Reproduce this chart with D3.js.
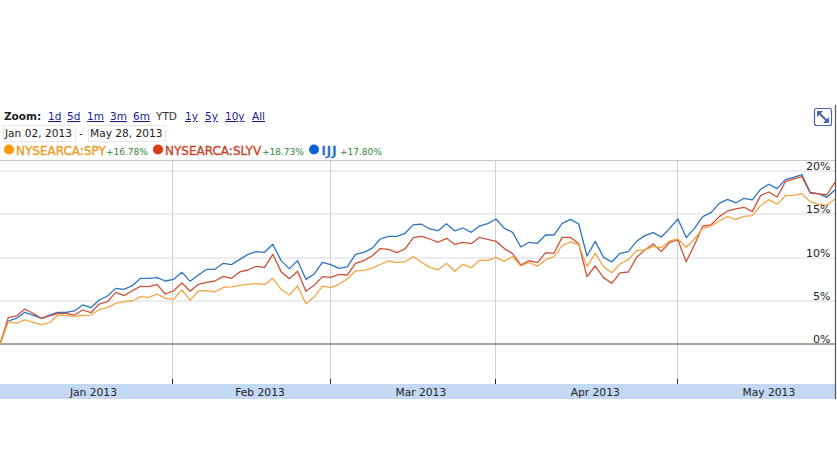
<!DOCTYPE html>
<html><head><meta charset="utf-8">
<script src="https://cdn.jsdelivr.net/npm/d3@7"></script>
<style>html,body{margin:0;padding:0;background:#fff}svg{display:block}
text{font-family:"DejaVu Sans",sans-serif}</style></head><body>
<svg id="c" width="837" height="460"></svg>
<script>
const spy=[0,2.61,2.42,2.81,2.54,2.27,2.50,3.38,3.31,3.23,3.35,3.38,4.00,4.23,4.73,4.92,5.00,5.50,5.42,5.81,5.31,5.19,6.27,5.08,6.16,6.19,6.04,6.58,6.62,6.81,6.93,7.00,6.89,7.62,6.35,5.69,6.73,4.69,5.46,6.73,6.54,6.93,7.54,8.47,8.54,8.77,9.24,9.62,9.43,9.54,10.12,9.47,8.85,8.62,9.35,8.43,9.24,8.85,9.70,9.70,10.04,9.58,10.12,9.04,9.47,9.00,9.77,10.12,11.39,11.82,11.51,8.97,10.51,8.97,8.27,9.27,9.77,10.85,10.89,11.31,11.16,11.93,12.16,11.20,12.16,13.39,13.66,14.24,14.74,14.43,14.78,14.86,16.01,16.70,16.17,17.17,17.20,17.40,16.47,16.17,16.05,16.78];
const slyv=[0,3.08,3.27,4.08,3.58,3.00,3.27,3.58,3.58,3.38,3.96,3.65,4.65,4.92,6.00,5.62,6.19,6.70,6.66,6.89,5.81,6.19,7.08,6.12,6.93,7.16,7.31,7.85,7.62,8.35,8.58,9.01,8.89,10.39,8.39,7.58,8.43,6.12,6.81,7.81,7.73,8.08,8.00,9.35,9.66,10.20,11.05,10.97,10.58,11.01,12.32,12.47,12.16,11.78,12.24,11.55,11.78,11.62,12.35,12.12,11.89,11.05,10.47,9.16,9.66,9.43,10.58,10.51,12.35,12.35,11.62,7.81,9.04,7.70,7.04,8.24,8.35,10.04,10.89,11.58,10.70,11.78,12.05,9.54,11.47,13.66,13.78,14.74,15.40,15.63,15.82,15.32,17.17,17.59,17.01,18.78,19.09,19.36,17.47,17.36,17.24,18.73];
const ijj=[0,2.69,3.00,3.69,3.38,3.00,3.38,3.69,3.69,3.85,4.54,4.23,5.12,5.58,6.46,6.35,6.77,7.62,7.62,7.70,7.31,7.50,8.31,7.27,8.00,8.66,8.66,9.35,9.20,9.81,10.39,10.70,10.62,11.55,9.66,8.74,9.66,7.50,8.12,9.47,9.20,8.77,8.93,10.39,10.62,11.08,12.16,12.47,12.47,12.82,13.82,13.86,13.32,13.12,13.93,13.09,13.43,12.93,13.66,13.93,14.47,13.39,12.93,11.24,11.78,11.66,12.62,12.62,13.97,14.43,13.89,10.20,11.89,10.04,9.51,10.51,10.70,11.89,12.55,12.89,12.39,13.39,14.47,12.32,13.39,14.74,15.20,16.28,16.74,16.32,16.86,16.67,17.90,18.48,17.98,19.01,19.28,19.59,17.55,17.40,16.97,17.82];
const yTicks=[0,5,10,15,20];
const monthBoundaries=[20.84,39.95,59.9,81.93];
const monthLabels=["Jan 2013","Feb 2013","Mar 2013","Apr 2013","May 2013"];
const monthLabelPos=[11.3,31.45,50.9,72,93];
const zoomLinks=["1d","5d","1m","3m","6m","YTD","1y","5y","10y","All"];
const zoomX=[48,67,87,110,133,156,185,205,225,252];
const seriesNames=["NYSEARCA:SPY","NYSEARCA:SLYV","IJJ"];
const seriesChange=["+16.78%","+18.73%","+17.80%"];
const seriesDot=["#ff9900","#dc3912","#0a62d8"];
const seriesLine=["#f2a744","#cc5239","#2f74c0"];
const seriesText=["#f09a1e","#c8452a","#2a6fc4"];
const legendDotX=[9,158,314],legendNameX=[16,165,321],legendChangeX=[106,262,340];

const svg=d3.select("#c");
const x=d3.scaleLinear().domain([0,101]).range([0,835]);
const y=d3.scaleLinear().domain([0,20]).range([344.3,171.1]);

svg.append("line").attr("x1",0).attr("x2",835).attr("y1",160.5).attr("y2",160.5).attr("stroke","#c8c8c8").attr("stroke-width",1);
svg.append("rect").attr("x",0).attr("y",384).attr("width",835).attr("height",15).attr("fill","#c3d9f3");

svg.selectAll(".vg").data(monthBoundaries).join("line").attr("x1",d=>Math.round(x(d))+.5).attr("x2",d=>Math.round(x(d))+.5)
 .attr("y1",160).attr("y2",379).attr("stroke","#d0d0d0");
svg.selectAll(".vt").data(monthBoundaries).join("line").attr("x1",d=>Math.round(x(d))+.5).attr("x2",d=>Math.round(x(d))+.5)
 .attr("y1",379).attr("y2",384).attr("stroke","#222");

svg.selectAll(".hg").data(yTicks).join("line").attr("x1",0).attr("x2",835)
 .attr("y1",d=>Math.round(y(d))).attr("y2",d=>Math.round(y(d)))
 .attr("stroke",d=>d===0?"#5f4a4a":"#d8d8e6").attr("stroke-width",d=>d===0?1.2:1);

const line=d3.line().x((d,i)=>x(i)).y(d=>y(d));
[ijj,slyv,spy].forEach((s,k)=>{
  const c=[seriesLine[2],seriesLine[1],seriesLine[0]][k];
  svg.append("path").datum(s).attr("d",line).attr("fill","none").attr("stroke",c).attr("stroke-width",1.3).attr("stroke-linejoin","round");
});

const yAxis=d3.axisLeft(y).tickValues(yTicks).tickSize(0).tickFormat(d=>d+"%");
const gy=svg.append("g").attr("transform","translate(830.5,-5)").call(yAxis);
gy.select(".domain").remove();
gy.selectAll("text").attr("x",0).attr("dy","0.32em").attr("font-size",11).attr("fill","#222").attr("font-family","DejaVu Sans");

svg.selectAll(".ml").data(monthLabels).join("text").text(d=>d).attr("x",(d,i)=>x(monthLabelPos[i])).attr("y",395.5)
 .attr("text-anchor","middle").attr("font-size",10.7).attr("fill","#222");

svg.append("line").attr("x1",835.5).attr("x2",835.5).attr("y1",105).attr("y2",399).attr("stroke","#555").attr("stroke-width",1.2);

svg.append("text").text("Zoom:").attr("x",4).attr("y",120).attr("font-size",10.5).attr("font-weight","bold").attr("fill","#222");
svg.selectAll(".zl").data(zoomLinks).join("text").text(d=>d).attr("x",(d,i)=>zoomX[i]).attr("y",120).attr("font-size",10.5)
 .attr("fill",d=>d==="YTD"?"#333":"#1a1a99").attr("text-decoration",d=>d==="YTD"?"none":"underline");

[[3,72,"Jan 02, 2013"],[88,77,"May 28, 2013"]].forEach(([bx,w,t])=>{
  svg.append("rect").attr("x",bx+.5).attr("y",125.5).attr("width",w).attr("height",16).attr("fill","#fff").attr("stroke","#e8e8e8");
  svg.append("text").text(t).attr("x",bx+2).attr("y",137).attr("font-size",10.6).attr("fill","#222");
});
svg.append("text").text("-").attr("x",79).attr("y",137).attr("font-size",10.5).attr("fill","#222");

seriesNames.forEach((n,i)=>{
  svg.append("circle").attr("cx",legendDotX[i]).attr("cy",149.5).attr("r",5).attr("fill",seriesDot[i]);
  const t=svg.append("text").text(n).attr("x",legendNameX[i]).attr("y",155).attr("font-size",12).attr("fill",seriesText[i]).attr("stroke",seriesText[i]).attr("stroke-width",.35);
  if(n==="IJJ") t.attr("textLength",16).attr("lengthAdjust","spacingAndGlyphs");
  svg.append("text").text(seriesChange[i]).attr("x",legendChangeX[i]).attr("y",155).attr("font-size",9).attr("fill","#2e8b3a");
});

const ic=svg.append("g").attr("fill","none").attr("stroke","#4a66b0");
ic.append("rect").attr("x",814.5).attr("y",108.5).attr("width",17).attr("height",17).attr("rx",2).attr("stroke-width",1.2);
ic.append("path").attr("d","M819 113 L827 121").attr("stroke-width",2);
ic.append("path").attr("d","M817 117 L817 111 L823 111 Z M829 117 L829 123 L823 123 Z").attr("fill","#4a66b0").attr("stroke","none");
</script></body></html>
